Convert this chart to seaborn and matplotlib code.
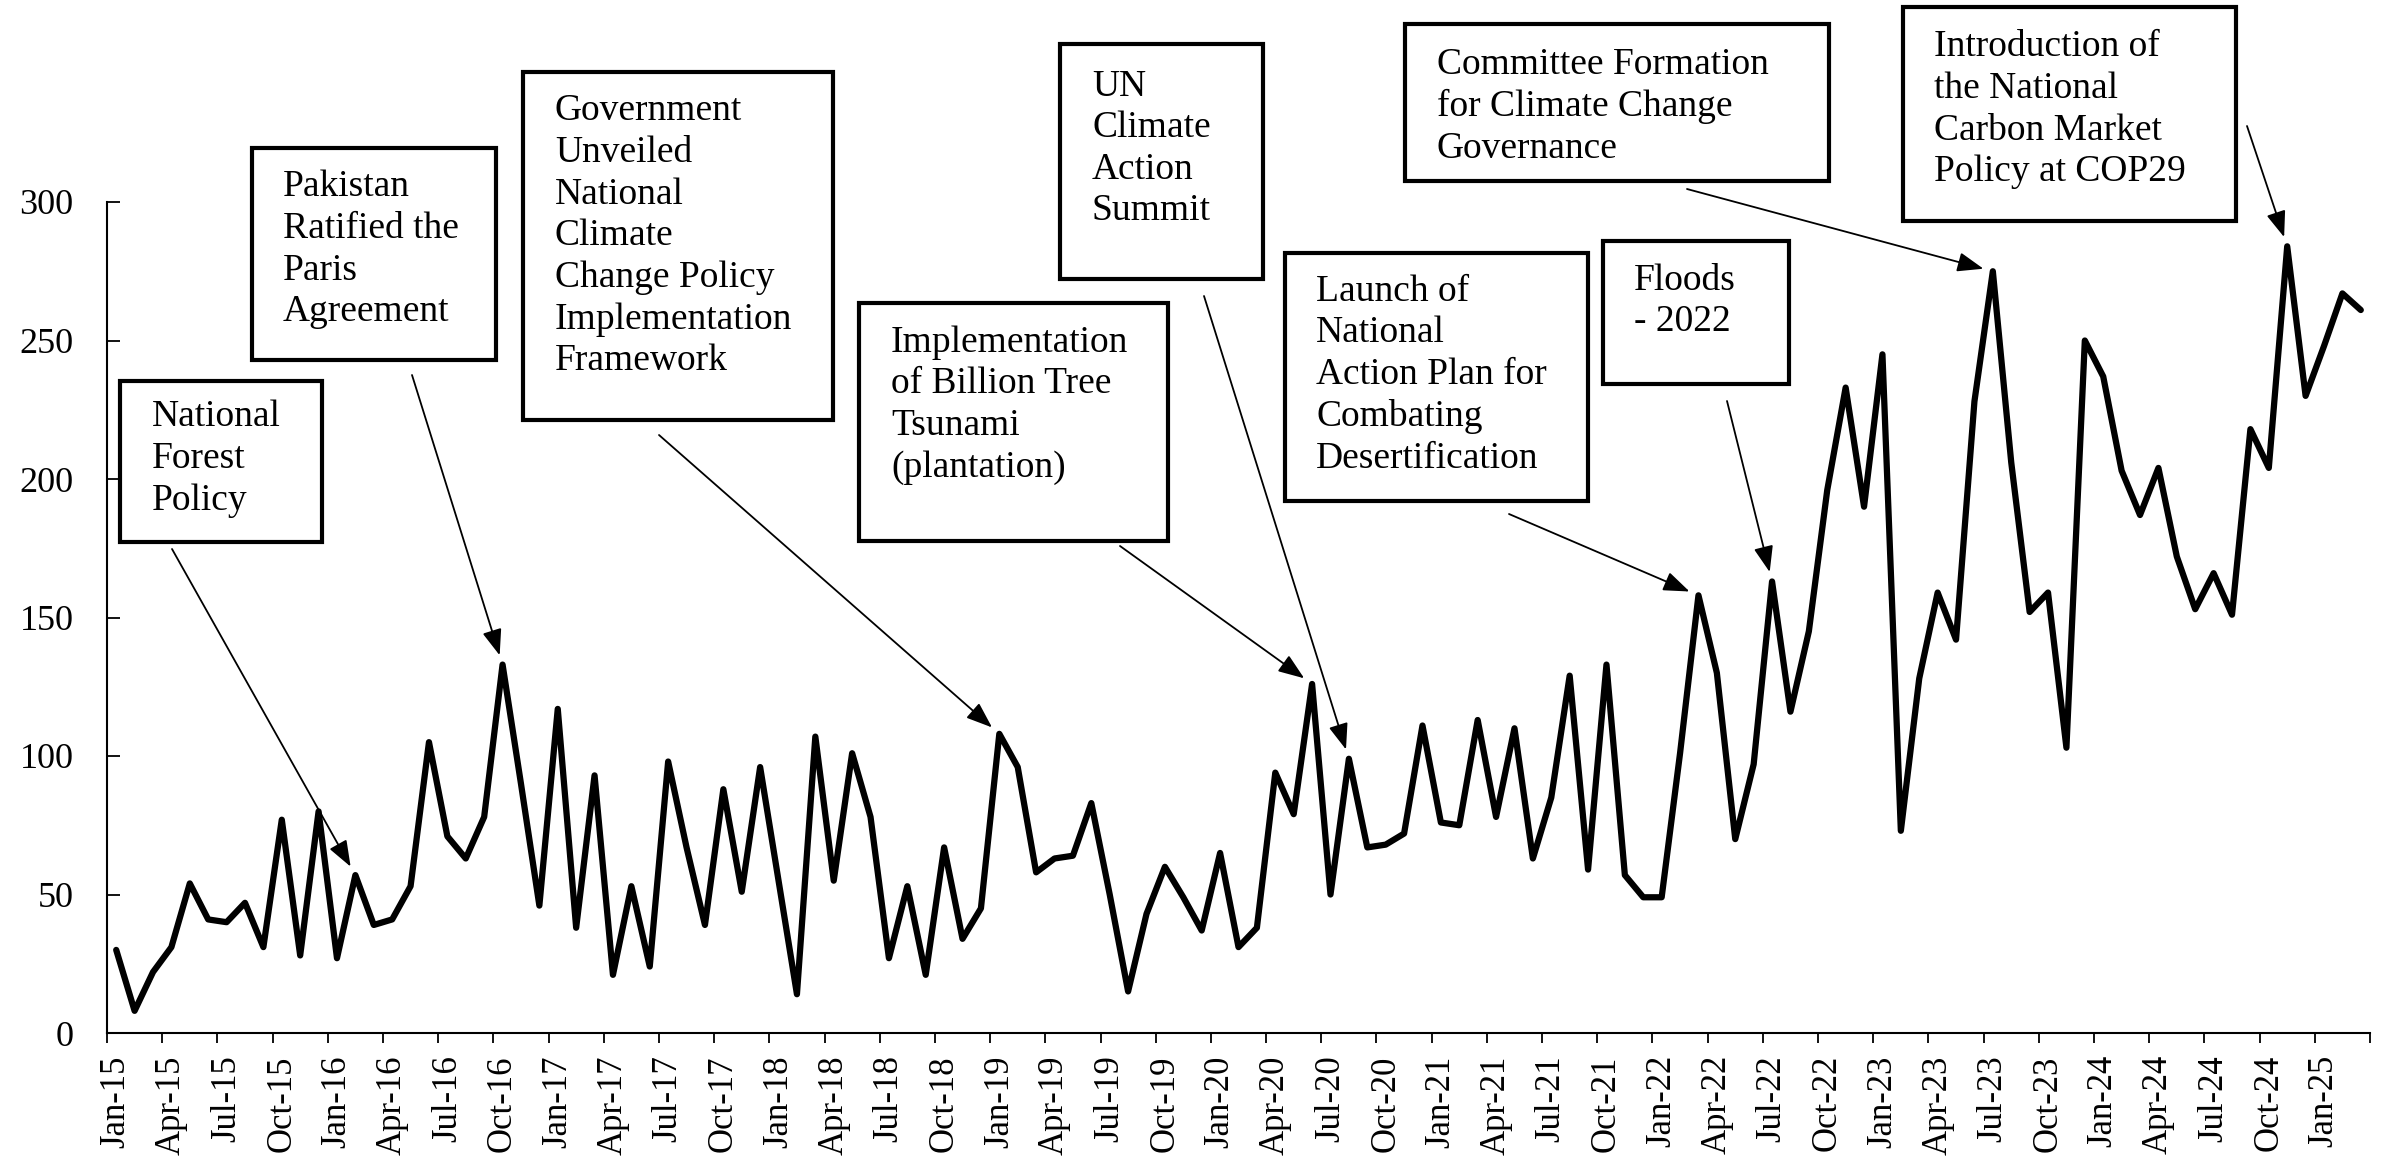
import numpy as np
import pandas as pd
import matplotlib
matplotlib.use("Agg")
import matplotlib.pyplot as plt
from matplotlib.patches import Rectangle
import seaborn as sns

# ---- data (monthly values, Jan-2015 .. Mar-2025) ----
values = [30, 8, 22, 31, 54, 41, 40, 47, 31, 77, 28, 80,
          27, 57, 39, 41, 53, 105, 71, 63, 78, 133, 90, 46,
          117, 38, 93, 21, 53, 24, 98, 67, 39, 88, 51, 96,
          55, 14, 107, 55, 101, 78, 27, 53, 21, 67, 34, 45,
          108, 96, 58, 63, 64, 83, 50, 15, 43, 60, 49, 37,
          65, 31, 38, 94, 79, 126, 50, 99, 67, 68, 72, 111,
          76, 75, 113, 78, 110, 63, 85, 129, 59, 133, 57, 49,
          49, 101, 158, 130, 70, 97, 163, 116, 145, 196, 233, 190,
          245, 73, 128, 159, 142, 228, 275, 206, 152, 159, 103, 250,
          237, 203, 187, 204, 172, 153, 166, 151, 218, 204, 284, 230,
          248, 267, 261]
months = pd.date_range("2015-01-01", periods=len(values), freq="MS")
tick_labels = list(months.strftime("%b-%y")[::3])
y_ticks = [0, 50, 100, 150, 200, 250, 300]

# events: text, index of the month the arrow points to
event_texts = [
    "National\nForest\nPolicy",
    "Pakistan\nRatified the\nParis\nAgreement",
    "Government\nUnveiled\nNational\nClimate\nChange Policy\nImplementation\nFramework",
    "Implementation\nof Billion Tree\nTsunami\n(plantation)",
    "UN\nClimate\nAction\nSummit",
    "Launch of\nNational\nAction Plan for\nCombating\nDesertification",
    "Committee Formation\nfor Climate Change\nGovernance",
    "Floods\n- 2022",
    "Introduction of\nthe National\nCarbon Market\nPolicy at COP29",
]
event_month = [13, 21, 48, 65, 67, 86, 102, 90, 118]

# layout of the boxes in pixels (x0, y0, x1, y1), text anchor and arrow start
W, H = 2382, 1164
boxes = [(120, 381, 322, 542), (252, 148, 496, 360), (523, 72, 833, 420),
         (859, 303, 1168, 541), (1060, 44, 1263, 279), (1285, 253, 1588, 501),
         (1405, 24, 1829, 181), (1603, 241, 1789, 384), (1903, 7, 2236, 221)]
text_xy = [(152, 400), (283, 170), (555, 94), (891, 325), (1092, 69),
           (1316, 274), (1437, 47), (1634, 263), (1934, 30)]
arrow_from = [(172, 549), (412, 375), (659, 435), (1120, 546), (1204, 296),
              (1509, 514), (1687, 189), (1727, 401), (2247, 126)]


def fx(x):
    return x / W


def fy(y):
    return 1 - y / H


sns.set_style("ticks")
plt.rcParams["font.family"] = ["Liberation Serif", "DejaVu Serif"]

fig = plt.figure(figsize=(W / 100, H / 100), dpi=100)
ax = fig.add_axes([fx(107), fy(1033), fx(2370) - fx(107), fy(202) - fy(1033)])

x = np.arange(len(values)) + 0.5
sns.lineplot(x=x, y=values, ax=ax, color="black", linewidth=4.5)

ax.set_xlim(0, len(values))
ax.set_ylim(0, 300)
ax.set_yticks(y_ticks)
ax.set_yticklabels([str(v) for v in y_ticks])
ax.set_xticks(np.arange(0, len(values) + 1, 3))
ax.set_xticklabels([])
ax.set_xticks(np.arange(0, len(values), 3)[:len(tick_labels)] + 0.5, minor=True)
ax.set_xticklabels(tick_labels, minor=True, rotation=90)
ax.tick_params(axis="x", which="major", direction="out", length=7, width=1.3, color="black")
ax.tick_params(axis="x", which="minor", length=0, pad=16, labelsize=25, labelcolor="black")
ax.tick_params(axis="y", direction="in", length=9, width=1.3, pad=24,
               labelsize=26, labelcolor="black", color="black")
sns.despine(ax=ax)
for side in ["left", "bottom"]:
    ax.spines[side].set_color("black")
    ax.spines[side].set_linewidth(1.5)
ax.set_xlabel("")
ax.set_ylabel("")

# annotation boxes and arrows
for txt, m, b, t, a in zip(event_texts, event_month, boxes, text_xy, arrow_from):
    rect = Rectangle((fx(b[0]), fy(b[3])), fx(b[2]) - fx(b[0]), fy(b[1]) - fy(b[3]),
                     transform=fig.transFigure, fill=True, facecolor="white",
                     edgecolor="black", linewidth=3, zorder=5)
    fig.patches.append(rect)
    fig.text(fx(t[0]), fy(t[1]), txt, ha="left", va="top", fontsize=27,
             linespacing=1.27, color="black", zorder=6)
    ax.annotate("", xy=(x[m], values[m]), xycoords="data",
                xytext=(fx(a[0]), fy(a[1])), textcoords="figure fraction",
                arrowprops=dict(arrowstyle="-|>,head_length=0.8,head_width=0.3",
                                color="black", lw=1.3, shrinkA=0, shrinkB=7,
                                mutation_scale=20),
                annotation_clip=False)

fig.savefig("out.png", dpi=100)
